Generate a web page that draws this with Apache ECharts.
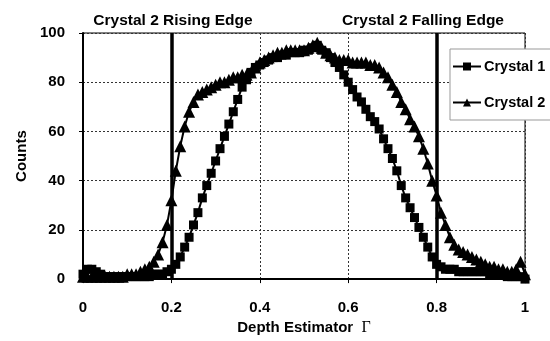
<!DOCTYPE html>
<html>
<head>
<meta charset="utf-8">
<script src="https://cdn.jsdelivr.net/npm/echarts@6/dist/echarts.min.js"></script>
<style>html,body{margin:0;padding:0;background:#fff}#c{width:550px;height:341px}</style>
</head>
<body>
<div id="c"></div>
<script>
const depth = [0.00,0.01,0.02,0.03,0.04,0.05,0.06,0.07,0.08,0.09,0.10,0.11,0.12,0.13,0.14,0.15,0.16,0.17,0.18,0.19,0.20,0.21,0.22,0.23,0.24,0.25,0.26,0.27,0.28,0.29,0.30,0.31,0.32,0.33,0.34,0.35,0.36,0.37,0.38,0.39,0.40,0.41,0.42,0.43,0.44,0.45,0.46,0.47,0.48,0.49,0.50,0.51,0.52,0.53,0.54,0.55,0.56,0.57,0.58,0.59,0.60,0.61,0.62,0.63,0.64,0.65,0.66,0.67,0.68,0.69,0.70,0.71,0.72,0.73,0.74,0.75,0.76,0.77,0.78,0.79,0.80,0.81,0.82,0.83,0.84,0.85,0.86,0.87,0.88,0.89,0.90,0.91,0.92,0.93,0.94,0.95,0.96,0.97,0.98,0.99,1.00];
const crystal1 = [2,4,4,3,2,1,1,1,1,1,1,1,1,1,1,1,2,2,2,3,4,6,9,13,17,22,27,33,38,43,48,53,58,63,68,73,78,81,84,86,87,88,89,90,90,91,91,92,92,92,93,93,94,95,93,92,90,88,86,83,80,77,74,72,69,66,64,61,57,53,49,44,38,33,29,25,21,17,13,9,6,5,4,4,4,3,3,3,3,3,3,3,2,2,2,2,1,1,1,1,0];
const crystal2 = [1,1,1,1,1,1,1,1,1,1,2,2,2,3,4,5,7,10,15,22,32,44,54,62,68,72,75,76,77,78,79,80,80,81,82,82,83,83,84,86,88,89,90,91,92,92,93,93,93,93,93,94,95,96,94,92,91,90,89,89,89,88,88,88,88,87,87,86,84,82,79,76,72,69,65,62,58,53,47,40,34,27,22,17,14,12,11,10,9,8,7,6,5,5,4,4,3,3,4,7,2];
const edges = [0.2, 0.8];
const edgeLabels = ['Crystal 2 Rising Edge', 'Crystal 2 Falling Edge'];
const seriesNames = ['Crystal 1', 'Crystal 2'];

const FONT = 'Liberation Sans, Arial, sans-serif';
const chart = echarts.init(document.getElementById('c'), null, {renderer: 'canvas'});
const pairs = arr => arr.map((v, i) => [depth[i], v]);
chart.setOption({
  animation: false,
  backgroundColor: '#fff',
  textStyle: {fontFamily: FONT},
  grid: {left: 83, right: 25, top: 33, bottom: 61, show: true, borderColor: '#000', borderWidth: 1, backgroundColor: 'transparent'},
  title: [
    {text: edgeLabels[0], left: 168, top: 8, textAlign: 'center', textStyle: {fontFamily: FONT, fontSize: 15.5, fontWeight: 'bold', color: '#000'}},
    {text: edgeLabels[1], left: 418, top: 8, textAlign: 'center', textStyle: {fontFamily: FONT, fontSize: 15.5, fontWeight: 'bold', color: '#000'}}
  ],
  legend: {
    orient: 'vertical', left: 450, top: 49,
    data: seriesNames,
    itemWidth: 28, itemHeight: 10, itemGap: 21,
    padding: [10, 12, 10, 2],
    backgroundColor: '#fff', borderColor: '#999', borderWidth: 1, borderRadius: 0,
    textStyle: {fontFamily: FONT, fontSize: 14.5, fontWeight: 'bold', color: '#000', padding: [0, 0, 0, -2]}
  },
  xAxis: {
    type: 'value', min: 0, max: 1, interval: 0.2,
    name: '{a|Depth Estimator  }{b|Γ}', nameLocation: 'middle', nameGap: 40,
    nameTextStyle: {rich: {a: {fontFamily: FONT, fontSize: 15, fontWeight: 'bold', color: '#000'}, b: {fontFamily: 'Liberation Serif, serif', fontSize: 16, color: '#000'}}},
    axisLine: {lineStyle: {color: '#000', width: 2}},
    axisTick: {show: true, length: 4, lineStyle: {color: '#000'}},
    axisLabel: {margin: 21, fontFamily: FONT, fontSize: 15, fontWeight: 'bold', color: '#000', formatter: v => String(Math.round(v * 10) / 10)},
    splitLine: {show: true, lineStyle: {color: '#333', type: [2, 2], width: 1}}
  },
  yAxis: {
    type: 'value', min: 0, max: 100, interval: 20,
    name: 'Counts', nameLocation: 'middle', nameGap: 54, nameRotate: 90,
    nameTextStyle: {fontFamily: FONT, fontSize: 15, fontWeight: 'bold', color: '#000'},
    axisLine: {show: true, lineStyle: {color: '#000', width: 2}},
    axisTick: {show: true, length: 4, lineStyle: {color: '#000'}},
    axisLabel: {margin: 18, fontFamily: FONT, fontSize: 15, fontWeight: 'bold', color: '#000'},
    splitLine: {show: true, lineStyle: {color: '#333', type: [2, 2], width: 1}}
  },
  series: [
    {
      name: seriesNames[0], type: 'line', data: pairs(crystal1),
      symbol: 'rect', symbolSize: 9,
      lineStyle: {color: '#000', width: 2}, itemStyle: {color: '#000'},
      markLine: {
        silent: true, symbol: 'none', label: {show: false},
        lineStyle: {color: '#000', width: 3.5, type: 'solid'},
        data: edges.map(e => ({xAxis: e}))
      }
    },
    {
      name: seriesNames[1], type: 'line', data: pairs(crystal2),
      symbol: 'triangle', symbolSize: 12,
      lineStyle: {color: '#000', width: 2}, itemStyle: {color: '#000'}
    }
  ]
});
</script>
</body>
</html>
